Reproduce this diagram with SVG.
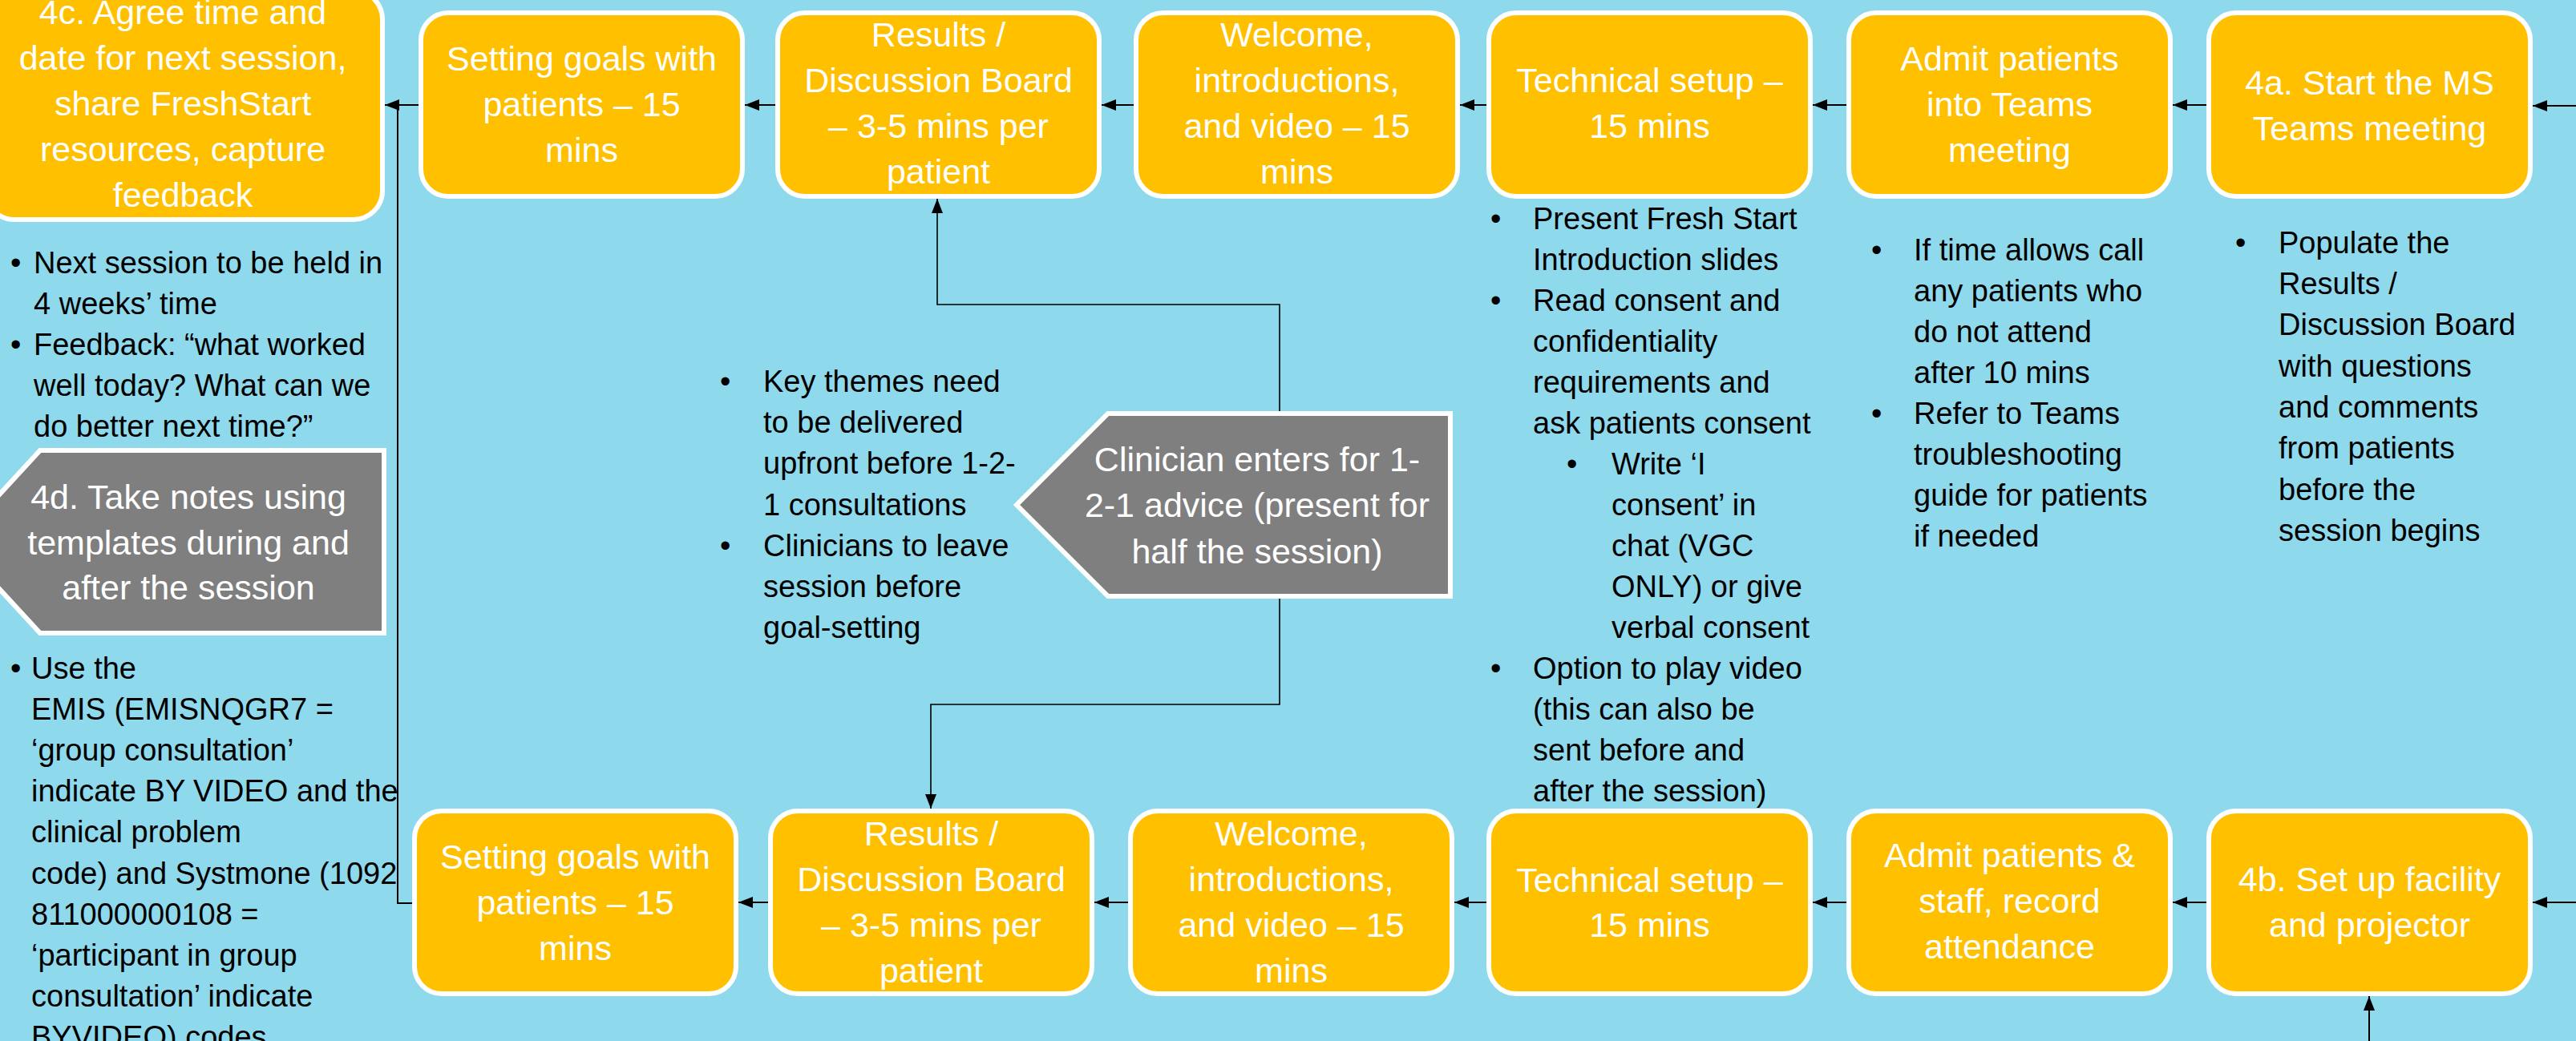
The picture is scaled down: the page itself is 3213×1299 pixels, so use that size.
<svg xmlns="http://www.w3.org/2000/svg" width="3213" height="1299" viewBox="0 0 3213 1299">
  <style>
    .box{fill:#FFC000;stroke:#FFFFFF;stroke-width:6}
    .tag{fill:#7F7F7F;stroke:#FFFFFF;stroke-width:6}
    .bt{font-family:"Liberation Sans",Arial,sans-serif;font-size:43px;fill:#FFFFFF;text-anchor:middle}
    .nt{font-family:"Liberation Sans",Arial,sans-serif;font-size:38px;fill:#000000}
    .cn{stroke:#000000;stroke-width:2;fill:none}
  </style>
  <defs>
    <marker id="arrow" markerUnits="userSpaceOnUse" markerWidth="18" markerHeight="14" viewBox="0 0 18 14" refX="18" refY="7" orient="auto">
      <path d="M0,0 L18,7 L0,14 z" fill="#000000"/>
    </marker>
  </defs>

  <rect x="0" y="0" width="3213" height="1299" fill="#8FD9EC"/>

  <!-- connectors -->
  <g id="connectors" class="cn">
    <!-- top row, right to left -->
    <path d="M3213,132 H3159" marker-end="url(#arrow)"/>
    <path d="M2752,131 H2710" marker-end="url(#arrow)"/>
    <path d="M2303,131 H2261" marker-end="url(#arrow)"/>
    <path d="M1854,131 H1821" marker-end="url(#arrow)"/>
    <path d="M1414,131 H1374" marker-end="url(#arrow)"/>
    <path d="M967,131 H929" marker-end="url(#arrow)"/>
    <path d="M522,131 H480" marker-end="url(#arrow)"/>
    <!-- bottom row, right to left -->
    <path d="M3213,1126 H3159" marker-end="url(#arrow)"/>
    <path d="M2955,1299 V1243" marker-end="url(#arrow)"/>
    <path d="M2752,1126 H2710" marker-end="url(#arrow)"/>
    <path d="M2303,1126 H2261" marker-end="url(#arrow)"/>
    <path d="M1854,1126 H1814" marker-end="url(#arrow)"/>
    <path d="M1407,1126 H1365" marker-end="url(#arrow)"/>
    <path d="M958,1126 H921" marker-end="url(#arrow)"/>
    <!-- bottom goal-setting joins the route into 4c -->
    <path d="M514,1127 H496 V131"/>
    <!-- clinician links to both results boards -->
    <path d="M1596,513 V380 H1169 V248" stroke-width="1.6" marker-end="url(#arrow)"/>
    <path d="M1596,747 V879 H1161 V1009" stroke-width="1.6" marker-end="url(#arrow)"/>
  </g>

  <!-- top row -->
  <g id="node-4c">
    <rect class="box" x="-18" y="-12" width="495" height="286" rx="36"/>
    <text class="bt"><tspan x="228" y="30">4c. Agree time and</tspan><tspan x="228" y="87">date for next session,</tspan><tspan x="228" y="144">share FreshStart</tspan><tspan x="228" y="201">resources, capture</tspan><tspan x="228" y="258">feedback</tspan></text>
  </g>
  <g id="node-goals-top">
    <rect class="box" x="525" y="16" width="401" height="229" rx="34"/>
    <text class="bt"><tspan x="725.5" y="88">Setting goals with</tspan><tspan x="725.5" y="145">patients – 15</tspan><tspan x="725.5" y="202">mins</tspan></text>
  </g>
  <g id="node-results-top">
    <rect class="box" x="970" y="16" width="401" height="229" rx="34"/>
    <text class="bt"><tspan x="1170.5" y="58">Results /</tspan><tspan x="1170.5" y="115">Discussion Board</tspan><tspan x="1170.5" y="172">– 3-5 mins per</tspan><tspan x="1170.5" y="229">patient</tspan></text>
  </g>
  <g id="node-welcome-top">
    <rect class="box" x="1417" y="16" width="401" height="229" rx="34"/>
    <text class="bt"><tspan x="1617.5" y="58">Welcome,</tspan><tspan x="1617.5" y="115">introductions,</tspan><tspan x="1617.5" y="172">and video – 15</tspan><tspan x="1617.5" y="229">mins</tspan></text>
  </g>
  <g id="node-tech-top">
    <rect class="box" x="1857" y="16" width="401" height="229" rx="34"/>
    <text class="bt"><tspan x="2057.5" y="115">Technical setup –</tspan><tspan x="2057.5" y="172">15 mins</tspan></text>
  </g>
  <g id="node-admit-top">
    <rect class="box" x="2306" y="16" width="401" height="229" rx="34"/>
    <text class="bt"><tspan x="2506.5" y="88">Admit patients</tspan><tspan x="2506.5" y="145">into Teams</tspan><tspan x="2506.5" y="202">meeting</tspan></text>
  </g>
  <g id="node-4a">
    <rect class="box" x="2755" y="16" width="401" height="229" rx="34"/>
    <text class="bt"><tspan x="2955.5" y="118">4a. Start the MS</tspan><tspan x="2955.5" y="175">Teams meeting</tspan></text>
  </g>

  <!-- bottom row -->
  <g id="node-goals-bottom">
    <rect class="box" x="517" y="1012" width="401" height="228" rx="34"/>
    <text class="bt"><tspan x="717.5" y="1084">Setting goals with</tspan><tspan x="717.5" y="1141">patients – 15</tspan><tspan x="717.5" y="1198">mins</tspan></text>
  </g>
  <g id="node-results-bottom">
    <rect class="box" x="961" y="1012" width="401" height="228" rx="34"/>
    <text class="bt"><tspan x="1161.5" y="1055">Results /</tspan><tspan x="1161.5" y="1112">Discussion Board</tspan><tspan x="1161.5" y="1169">– 3-5 mins per</tspan><tspan x="1161.5" y="1226">patient</tspan></text>
  </g>
  <g id="node-welcome-bottom">
    <rect class="box" x="1410" y="1012" width="401" height="228" rx="34"/>
    <text class="bt"><tspan x="1610.5" y="1055">Welcome,</tspan><tspan x="1610.5" y="1112">introductions,</tspan><tspan x="1610.5" y="1169">and video – 15</tspan><tspan x="1610.5" y="1226">mins</tspan></text>
  </g>
  <g id="node-tech-bottom">
    <rect class="box" x="1857" y="1012" width="401" height="228" rx="34"/>
    <text class="bt"><tspan x="2057.5" y="1113">Technical setup –</tspan><tspan x="2057.5" y="1169">15 mins</tspan></text>
  </g>
  <g id="node-admit-bottom">
    <rect class="box" x="2306" y="1012" width="401" height="228" rx="34"/>
    <text class="bt"><tspan x="2506.5" y="1082">Admit patients &amp;</tspan><tspan x="2506.5" y="1139">staff, record</tspan><tspan x="2506.5" y="1196">attendance</tspan></text>
  </g>
  <g id="node-4b">
    <rect class="box" x="2755" y="1012" width="401" height="228" rx="34"/>
    <text class="bt"><tspan x="2955.5" y="1112">4b. Set up facility</tspan><tspan x="2955.5" y="1169">and projector</tspan></text>
  </g>

  <!-- grey pentagon tags -->
  <g id="node-clinician">
    <polygon class="tag" points="1382,516 1809,516 1809,744 1382,744 1268,630"/>
    <text class="bt"><tspan x="1568" y="588">Clinician enters for 1-</tspan><tspan x="1568" y="645">2-1 advice (present for</tspan><tspan x="1568" y="703">half the session)</tspan></text>
  </g>
  <g id="node-4d">
    <polygon class="tag" points="50,562 479,562 479,790 50,790 -55,676"/>
    <text class="bt"><tspan x="235" y="635">4d. Take notes using</tspan><tspan x="235" y="692">templates during and</tspan><tspan x="235" y="748">after the session</tspan></text>
  </g>

  <!-- bullet notes -->
  <g id="notes-4c" class="nt">
    <text x="13" y="341">•</text>
    <text x="13" y="443">•</text>
    <text><tspan x="42" y="341">Next session to be held in</tspan><tspan x="42" y="392">4 weeks’ time</tspan><tspan x="42" y="443">Feedback: “what worked</tspan><tspan x="42" y="494">well today? What can we</tspan><tspan x="42" y="545">do better next time?”</tspan></text>
  </g>
  <g id="notes-4d" class="nt">
    <text x="13" y="847">•</text>
    <text><tspan x="39" y="847">Use the</tspan><tspan x="39" y="898">EMIS (EMISNQGR7 =</tspan><tspan x="39" y="949">‘group consultation’</tspan><tspan x="39" y="1000">indicate BY VIDEO and the</tspan><tspan x="39" y="1051">clinical problem</tspan><tspan x="39" y="1103">code) and Systmone (1092</tspan><tspan x="39" y="1154">811000000108 =</tspan><tspan x="39" y="1205">‘participant in group</tspan><tspan x="39" y="1256">consultation’ indicate</tspan><tspan x="39" y="1307">BYVIDEO) codes</tspan></text>
  </g>
  <g id="notes-clinician" class="nt">
    <text x="898" y="489">•</text>
    <text x="898" y="694">•</text>
    <text><tspan x="952" y="489">Key themes need</tspan><tspan x="952" y="540">to be delivered</tspan><tspan x="952" y="591">upfront before 1-2-</tspan><tspan x="952" y="643">1 consultations</tspan><tspan x="952" y="694">Clinicians to leave</tspan><tspan x="952" y="745">session before</tspan><tspan x="952" y="796">goal-setting</tspan></text>
  </g>
  <g id="notes-tech" class="nt">
    <text x="1859" y="286">•</text>
    <text x="1859" y="388">•</text>
    <text x="1954" y="592">•</text>
    <text x="1859" y="847">•</text>
    <text><tspan x="1912" y="286">Present Fresh Start</tspan><tspan x="1912" y="337">Introduction slides</tspan><tspan x="1912" y="388">Read consent and</tspan><tspan x="1912" y="439">confidentiality</tspan><tspan x="1912" y="490">requirements and</tspan><tspan x="1912" y="541">ask patients consent</tspan><tspan x="2010" y="592">Write ‘I</tspan><tspan x="2010" y="643">consent’ in</tspan><tspan x="2010" y="694">chat (VGC</tspan><tspan x="2010" y="745">ONLY) or give</tspan><tspan x="2010" y="796">verbal consent</tspan><tspan x="1912" y="847">Option to play video</tspan><tspan x="1912" y="898">(this can also be</tspan><tspan x="1912" y="949">sent before and</tspan><tspan x="1912" y="1000">after the session)</tspan></text>
  </g>
  <g id="notes-admit" class="nt">
    <text x="2334" y="325">•</text>
    <text x="2334" y="529">•</text>
    <text><tspan x="2387" y="325">If time allows call</tspan><tspan x="2387" y="376">any patients who</tspan><tspan x="2387" y="427">do not attend</tspan><tspan x="2387" y="478">after 10 mins</tspan><tspan x="2387" y="529">Refer to Teams</tspan><tspan x="2387" y="580">troubleshooting</tspan><tspan x="2387" y="631">guide for patients</tspan><tspan x="2387" y="682">if needed</tspan></text>
  </g>
  <g id="notes-4a" class="nt">
    <text x="2788" y="316">•</text>
    <text><tspan x="2842" y="316">Populate the</tspan><tspan x="2842" y="367">Results /</tspan><tspan x="2842" y="418">Discussion Board</tspan><tspan x="2842" y="470">with questions</tspan><tspan x="2842" y="521">and comments</tspan><tspan x="2842" y="572">from patients</tspan><tspan x="2842" y="624">before the</tspan><tspan x="2842" y="675">session begins</tspan></text>
  </g>
</svg>
